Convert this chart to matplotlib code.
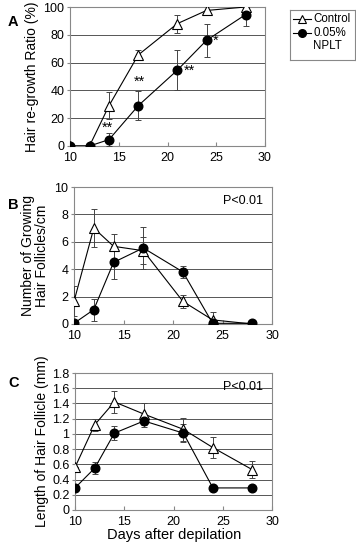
import matplotlib
matplotlib.use("Agg")
import matplotlib.pyplot as plt
from matplotlib.ticker import FuncFormatter
from matplotlib.lines import Line2D

plt.rcParams['font.family'] = ['Liberation Sans', 'DejaVu Sans']

days = [10, 12, 14, 17, 21, 24, 28]

# Panel A: hair re-growth ratio (%)
a_ctrl = [0, 0, 29, 65.5, 88, 97.5, 100]
a_ctrl_err = [0, 0, 9.5, 3.5, 6.5, 3, 1.5]
a_nplt = [0, 0, 4.6, 29, 54.5, 76, 94.5]
a_nplt_err = [0, 0, 4.5, 10.5, 14.5, 12, 8]
a_stars = [("**", 13.8, 13), ("**", 17.1, 46), ("**", 22.2, 54), ("*", 24.9, 76)]

# Panel B: number of growing hair follicles/cm
b_ctrl = [1.65, 7.0, 5.67, 5.35, 1.65, 0.3, 0.0]
b_ctrl_err = [1.1, 1.4, 0.9, 1.0, 0.5, 0.55, 0.0]
b_nplt = [0.05, 1.05, 4.5, 5.55, 3.8, 0.05, 0.05]
b_nplt_err = [0.0, 0.8, 1.2, 1.5, 0.45, 0.0, 0.0]

# Panel C: length of hair follicle (mm)
c_ctrl = [0.56, 1.12, 1.42, 1.26, 1.06, 0.82, 0.53]
c_ctrl_err = [0.0, 0.08, 0.14, 0.14, 0.15, 0.14, 0.11]
c_nplt = [0.29, 0.55, 1.01, 1.17, 1.01, 0.29, 0.29]
c_nplt_err = [0.0, 0.08, 0.09, 0.08, 0.12, 0.0, 0.0]

W, H = 356, 543
fig = plt.figure(figsize=(W / 100, H / 100), dpi=100)

def frac(l, r, t, b):
    return [l / W, 1 - b / H, (r - l) / W, (b - t) / H]

axA = fig.add_axes(frac(70, 265, 7, 146))
axB = fig.add_axes(frac(74, 272, 187, 324))
axC = fig.add_axes(frac(75, 272, 373, 510))

fs = 9
grid_col = '#555555'

def style(ax, ylim, yticks, fmt=None):
    ax.set_xlim(10, 30)
    ax.set_ylim(*ylim)
    ax.set_xticks([10, 15, 20, 25, 30])
    ax.set_yticks(yticks)
    ax.yaxis.grid(True, color=grid_col, linewidth=0.7)
    ax.set_axisbelow(True)
    for s in ax.spines.values():
        s.set_color('#888888')
        s.set_linewidth(0.8)
    ax.tick_params(axis='x', direction='in', length=3, labelsize=fs, color='#888888', pad=4)
    ax.tick_params(axis='y', direction='out', length=2, labelsize=fs, color='#888888', pad=2)
    if fmt:
        ax.yaxis.set_major_formatter(fmt)

def draw(ax, ctrl, ctrl_err, nplt, nplt_err):
    ax.plot(days, ctrl, color='black', lw=0.8, marker='^', ms=7,
            mfc='white', mec='black', mew=0.8, zorder=4)
    ax.errorbar(days, ctrl, yerr=ctrl_err, fmt='none', ecolor='#444444',
                elinewidth=0.7, capsize=2.5, capthick=0.7, zorder=3)
    ax.plot(days, nplt, color='black', lw=0.8, marker='o', ms=6.2,
            mfc='black', mec='black', zorder=5)
    ax.errorbar(days, nplt, yerr=nplt_err, fmt='none', ecolor='#444444',
                elinewidth=0.7, capsize=2.5, capthick=0.7, zorder=3)

style(axA, (0, 100), range(0, 101, 20))
draw(axA, a_ctrl, a_ctrl_err, a_nplt, a_nplt_err)
for s, x, y in a_stars:
    axA.text(x, y, s, fontsize=10.5, ha='center', va='center')
axA.set_ylabel('Hair re-growth Ratio (%)', fontsize=10, labelpad=3)

style(axB, (0, 10), range(0, 11, 2))
draw(axB, b_ctrl, b_ctrl_err, b_nplt, b_nplt_err)
axB.text(0.75, 0.9, 'P<0.01', transform=axB.transAxes, fontsize=fs, va='center')
axB.set_ylabel('Number of Growing\nHair Follicles/cm', fontsize=10, labelpad=4,
               linespacing=1.0)

cticks = [0, 0.2, 0.4, 0.6, 0.8, 1.0, 1.2, 1.4, 1.6, 1.8]
style(axC, (0, 1.8), cticks, FuncFormatter(lambda v, p: '%g' % round(v, 2)))
draw(axC, c_ctrl, c_ctrl_err, c_nplt, c_nplt_err)
axC.text(0.75, 0.9, 'P<0.01', transform=axC.transAxes, fontsize=fs, va='center')
axC.set_ylabel('Length of Hair Follicle (mm)', fontsize=10, labelpad=2)

fig.text(8 / W, 1 - 22 / H, 'A', fontsize=10.5, fontweight='bold', va='center')
fig.text(8 / W, 1 - 205 / H, 'B', fontsize=10.5, fontweight='bold', va='center')
fig.text(8 / W, 1 - 383 / H, 'C', fontsize=10.5, fontweight='bold', va='center')

fig.text(174 / W, 1 / H, 'Days after depilation', fontsize=10.5,
         ha='center', va='bottom')

# Legend drawn in a small pixel-coordinate axes
axL = fig.add_axes(frac(290, 355, 10, 60))
axL.set_xlim(290, 355)
axL.set_ylim(60, 10)
axL.set_xticks([])
axL.set_yticks([])
for s in axL.spines.values():
    s.set_color('#888888')
    s.set_linewidth(0.8)
axL.add_line(Line2D([293, 311], [19, 19], color='black', lw=0.8))
axL.plot([302], [19], marker='^', ms=5.5, mfc='white', mec='black', mew=0.8)
axL.add_line(Line2D([293, 311], [33, 33], color='black', lw=0.8))
axL.plot([302], [33], marker='o', ms=5.5, mfc='black', mec='black')
axL.text(313, 19, 'Control', fontsize=8.3, va='center', ha='left')
axL.text(313, 33, '0.05%', fontsize=8.3, va='center', ha='left')
axL.text(313, 46, 'NPLT', fontsize=8.3, va='center', ha='left')

fig.savefig('out.png', dpi=100)
